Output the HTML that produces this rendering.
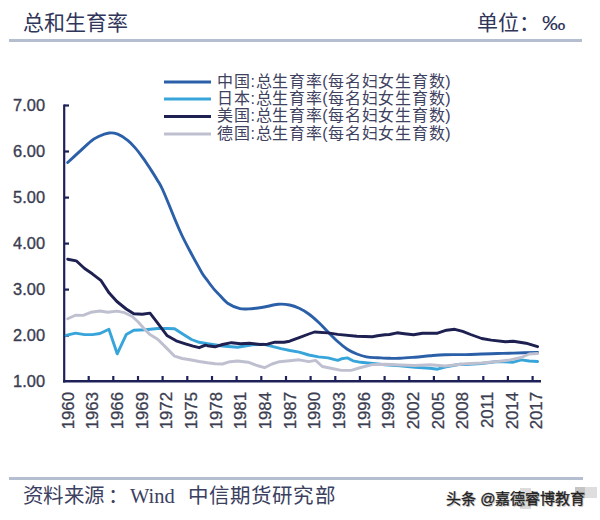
<!DOCTYPE html>
<html lang="zh-CN"><head><meta charset="utf-8"><style>
html,body{margin:0;padding:0;background:#fff;width:600px;height:520px;overflow:hidden}
body{position:relative;font-family:"Liberation Sans",sans-serif}
.t{position:absolute;white-space:nowrap;line-height:1}
</style></head><body>
<div class="t" style="left:23px;top:12px;font-size:21px;color:#30355a">总和生育率</div>
<div class="t" style="left:477px;top:12px;font-size:21px;color:#30355a">单位：<span style="display:inline-block;transform:scaleX(1.12);transform-origin:0 0;margin-left:2px">‰</span></div>
<div style="position:absolute;left:9px;top:39px;width:573px;height:3px;background:#b5bdd1"></div>
<svg width="600" height="520" style="position:absolute;left:0;top:0">
<g stroke-width="3" fill="none" stroke-linecap="butt">
<line x1="164" y1="82" x2="211" y2="82" stroke="#2b60a9"/>
<line x1="164" y1="99" x2="211" y2="99" stroke="#38a5da"/>
<line x1="164" y1="116.5" x2="211" y2="116.5" stroke="#1d2050"/>
<line x1="164" y1="134" x2="211" y2="134" stroke="#bec0d0"/>
</g>
<g font-size="16" fill="#3e4160" letter-spacing="0.7">
<text x="217" y="86.7">中国:总生育率(每名妇女生育数)</text>
<text x="217" y="103.7">日本:总生育率(每名妇女生育数)</text>
<text x="217" y="121.2">美国:总生育率(每名妇女生育数)</text>
<text x="217" y="138.7">德国:总生育率(每名妇女生育数)</text>
</g>
<g stroke="#1e2058" stroke-width="2.2" fill="none">
<line x1="64.2" y1="104.5" x2="64.2" y2="382.5"/>
<line x1="63" y1="381.3" x2="541" y2="381.3" stroke-width="2.6"/>
<line x1="64" y1="105.5" x2="69" y2="105.5"/>
<line x1="64" y1="151.5" x2="69" y2="151.5"/><line x1="64" y1="197.6" x2="69" y2="197.6"/><line x1="64" y1="243.6" x2="69" y2="243.6"/><line x1="64" y1="289.6" x2="69" y2="289.6"/><line x1="64" y1="335.6" x2="69" y2="335.6"/>
<line x1="88.7" y1="376" x2="88.7" y2="382" /><line x1="113.3" y1="376" x2="113.3" y2="382" /><line x1="138.0" y1="376" x2="138.0" y2="382" /><line x1="162.6" y1="376" x2="162.6" y2="382" /><line x1="187.3" y1="376" x2="187.3" y2="382" /><line x1="212.0" y1="376" x2="212.0" y2="382" /><line x1="236.6" y1="376" x2="236.6" y2="382" /><line x1="261.3" y1="376" x2="261.3" y2="382" /><line x1="286.0" y1="376" x2="286.0" y2="382" /><line x1="310.6" y1="376" x2="310.6" y2="382" /><line x1="335.3" y1="376" x2="335.3" y2="382" /><line x1="359.9" y1="376" x2="359.9" y2="382" /><line x1="384.6" y1="376" x2="384.6" y2="382" /><line x1="409.3" y1="376" x2="409.3" y2="382" /><line x1="433.9" y1="376" x2="433.9" y2="382" /><line x1="458.6" y1="376" x2="458.6" y2="382" /><line x1="483.3" y1="376" x2="483.3" y2="382" /><line x1="507.9" y1="376" x2="507.9" y2="382" /><line x1="532.6" y1="376" x2="532.6" y2="382" />
</g>
<g font-size="16.4" fill="#3b3d50" stroke="#3b3d50" stroke-width="0.35"><text x="45" y="111.1" text-anchor="end">7.00</text><text x="45" y="157.1" text-anchor="end">6.00</text><text x="45" y="203.2" text-anchor="end">5.00</text><text x="45" y="249.2" text-anchor="end">4.00</text><text x="45" y="295.2" text-anchor="end">3.00</text><text x="45" y="341.2" text-anchor="end">2.00</text><text x="45" y="387.3" text-anchor="end">1.00</text></g>
<g font-size="16.8" fill="#3b3d50" stroke="#3b3d50" stroke-width="0.3"><text transform="translate(73.6,392) rotate(-90)" text-anchor="end">1960</text><text transform="translate(98.3,392) rotate(-90)" text-anchor="end">1963</text><text transform="translate(122.9,392) rotate(-90)" text-anchor="end">1966</text><text transform="translate(147.6,392) rotate(-90)" text-anchor="end">1969</text><text transform="translate(172.3,392) rotate(-90)" text-anchor="end">1972</text><text transform="translate(196.9,392) rotate(-90)" text-anchor="end">1975</text><text transform="translate(221.6,392) rotate(-90)" text-anchor="end">1978</text><text transform="translate(246.2,392) rotate(-90)" text-anchor="end">1981</text><text transform="translate(270.9,392) rotate(-90)" text-anchor="end">1984</text><text transform="translate(295.6,392) rotate(-90)" text-anchor="end">1987</text><text transform="translate(320.2,392) rotate(-90)" text-anchor="end">1990</text><text transform="translate(344.9,392) rotate(-90)" text-anchor="end">1993</text><text transform="translate(369.6,392) rotate(-90)" text-anchor="end">1996</text><text transform="translate(394.2,392) rotate(-90)" text-anchor="end">1999</text><text transform="translate(418.9,392) rotate(-90)" text-anchor="end">2002</text><text transform="translate(443.5,392) rotate(-90)" text-anchor="end">2005</text><text transform="translate(468.2,392) rotate(-90)" text-anchor="end">2008</text><text transform="translate(492.9,392) rotate(-90)" text-anchor="end">2011</text><text transform="translate(517.5,392) rotate(-90)" text-anchor="end">2014</text><text transform="translate(542.2,392) rotate(-90)" text-anchor="end">2017</text></g>
<g fill="none" stroke-width="2.9" stroke-linejoin="round" stroke-linecap="round">
<path d="M67.7,162.5 C69.6,160.7 75.4,155.4 79.2,151.9 C83.0,148.4 87.6,143.9 90.8,141.3 C94.0,138.7 95.5,137.9 98.5,136.5 C101.5,135.1 105.8,133.4 109.0,133.0 C112.2,132.6 114.6,133.0 117.7,134.2 C120.8,135.4 124.8,138.1 127.7,140.4 C130.7,142.7 132.8,145.2 135.4,148.1 C138.0,151.0 140.5,154.5 143.1,158.1 C145.7,161.7 148.2,165.6 150.8,169.6 C153.4,173.6 156.6,178.7 158.5,181.9 C160.4,185.1 160.6,185.4 162.3,189.0 C164.0,192.6 166.4,198.4 168.5,203.5 C170.6,208.6 172.8,214.2 175.0,219.5 C177.2,224.8 179.6,230.4 182.0,235.5 C184.4,240.6 187.0,245.4 189.4,250.0 C191.8,254.6 194.3,259.2 196.5,263.1 C198.7,267.0 200.4,270.4 202.3,273.5 C204.2,276.6 206.1,278.8 208.1,281.5 C210.1,284.2 212.4,287.3 214.4,289.6 C216.4,291.9 217.7,293.1 220.0,295.5 C222.3,297.9 225.2,301.6 228.5,303.8 C231.8,306.0 236.2,307.9 240.0,308.7 C243.8,309.5 247.7,308.9 251.5,308.7 C255.3,308.5 258.6,308.0 263.0,307.3 C267.4,306.6 273.6,304.7 278.0,304.3 C282.4,303.9 286.1,304.3 289.6,305.0 C293.1,305.7 296.0,306.8 299.2,308.3 C302.4,309.8 305.6,311.7 308.8,314.0 C312.0,316.3 315.3,319.3 318.5,322.3 C321.7,325.3 324.8,328.8 328.0,332.0 C331.2,335.2 334.5,338.6 337.7,341.5 C340.9,344.4 344.1,347.1 347.3,349.2 C350.5,351.3 353.7,352.7 356.9,354.0 C360.1,355.3 363.1,356.3 366.5,356.9 C369.9,357.5 373.6,357.5 377.5,357.7 C381.4,357.9 386.2,358.2 390.0,358.3 C393.8,358.4 395.8,358.5 400.0,358.3 C404.2,358.1 410.0,357.6 415.0,357.2 C420.0,356.8 425.0,356.1 430.0,355.7 C435.0,355.3 439.0,354.9 445.0,354.7 C451.0,354.5 459.7,354.7 465.8,354.6 C471.9,354.5 476.4,354.2 481.7,354.0 C487.0,353.8 492.2,353.6 497.5,353.5 C502.8,353.4 506.6,353.3 513.3,353.1 C520.0,352.9 533.5,352.5 537.6,352.4" stroke="#2b60a9"/>
<polyline points="66.2,335.4 75.4,333.1 84.6,334.6 92.3,334.6 100.0,333.5 108.9,329.2 117.2,353.8 126.2,334.6 133.8,330.3 145.4,329.7 157.7,328.5 166.9,328.5 174.6,328.8 182.3,333.8 191.5,339.5 199.2,342.3 207.5,343.7 222.5,346.0 237.5,347.2 245.0,346.0 252.5,344.8 263.0,344.2 272.0,346.3 281.0,348.7 290.0,350.5 299.2,352.1 308.8,355.0 318.5,356.9 328.0,357.9 337.7,360.4 341.5,358.8 347.3,357.9 353.0,360.8 360.8,362.3 370.4,363.3 385.0,364.7 400.0,365.8 415.0,367.3 430.0,368.2 437.5,369.2 445.0,367.0 460.0,364.3 465.8,364.6 481.7,363.5 497.5,361.5 513.3,362.2 521.2,359.9 529.2,361.0 537.6,361.5" stroke="#38a5da"/>
<polyline points="67.7,259.2 76.2,260.8 84.6,268.5 92.3,273.8 100.8,280.3 109.2,293.1 116.9,301.5 126.2,309.0 133.8,313.8 142.3,314.3 150.0,313.1 157.7,323.1 166.9,335.4 176.2,340.8 185.4,343.8 193.1,346.2 199.2,347.7 205.4,345.1 207.5,345.7 215.0,346.8 222.5,344.5 231.5,342.7 240.5,343.7 249.5,343.3 260.0,344.5 267.5,344.2 275.0,342.2 284.0,342.2 289.6,341.2 299.2,337.7 308.8,334.0 314.6,332.0 328.0,332.9 337.7,334.4 356.9,336.2 372.3,336.7 377.5,335.8 385.0,334.7 389.5,334.5 397.0,332.8 404.5,333.7 413.5,334.7 422.5,333.2 437.5,333.2 446.5,330.2 454.8,329.3 462.7,331.4 470.6,334.5 481.7,338.5 491.2,340.1 505.4,341.7 513.3,341.3 526.0,343.2 537.6,346.7" stroke="#1d2050"/>
<polyline points="67.7,318.7 75.4,315.2 83.1,315.4 90.8,312.3 100.0,311.0 107.7,312.2 116.9,311.1 124.6,312.7 132.3,316.5 137.7,321.5 145.4,330.0 150.0,334.6 157.7,339.2 165.4,346.9 174.6,356.2 182.3,358.5 191.5,360.0 199.2,361.5 207.5,362.8 215.0,363.7 222.5,364.0 230.0,361.7 237.5,361.0 248.0,362.2 257.0,365.5 264.5,367.7 272.0,364.0 279.5,361.7 289.6,360.8 299.2,359.8 308.8,361.7 315.6,360.4 322.3,366.5 332.0,368.5 341.5,370.4 351.2,370.4 360.8,367.5 372.3,364.6 385.0,364.2 400.0,365.0 415.0,365.5 430.0,364.7 445.0,366.0 465.8,363.8 481.7,363.0 497.5,361.5 510.2,359.9 521.2,357.5 529.2,354.0 537.6,353.5" stroke="#bec0d0"/>
</g>
</svg>
<div style="position:absolute;left:9px;top:477px;width:574px;height:3px;background:#b5bdd1"></div>
<div class="t" style="left:23px;top:486px;font-size:20.5px;color:#3b4060;letter-spacing:0.4px">资料来源<span style="position:relative;left:3px">：</span><span style="font-family:'Liberation Serif',serif;position:absolute;left:107px;top:0;letter-spacing:0">Wind</span><span style="position:absolute;left:165px;top:0;letter-spacing:1.1px">中信期货研究部</span></div>
<div style="position:absolute;left:520px;top:488px;width:11px;height:21px;background:#dcdcdc"></div>
<div style="position:absolute;left:575px;top:487px;width:10px;height:11px;background:#c4c4c4"></div>
<div style="position:absolute;left:585px;top:487px;width:12px;height:11px;background:#dedede"></div>
<div class="t" style="left:446px;top:491px;font-size:15px;color:#222;-webkit-text-stroke:0.3px #222;text-shadow:1px 1px 1px rgba(0,0,0,0.3)">头条 @嘉德睿博教育</div>
</body></html>
